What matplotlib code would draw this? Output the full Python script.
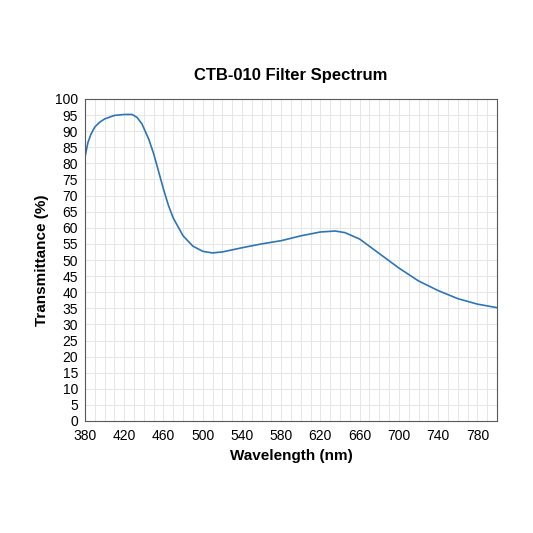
import matplotlib
matplotlib.use('Agg')
import matplotlib.pyplot as plt
import numpy as np

plt.rcParams['font.family'] = ['Liberation Sans', 'DejaVu Sans']

wavelength = [380, 383, 386, 390, 395, 400, 410, 420, 428, 433, 438, 445, 450, 455, 460, 465, 470, 480, 490,
              500, 510, 520, 540, 560, 580, 600, 620, 635, 645, 660, 680, 700, 720, 740, 760, 780, 800]
transmittance = [82, 86.5, 89, 91.3, 92.8, 93.8, 94.9, 95.2, 95.2, 94.3, 92.3, 87.5, 83, 77.5, 72, 67, 63, 57.5, 54.3,
                 52.7, 52.2, 52.5, 53.8, 55, 56, 57.5, 58.7, 59, 58.5, 56.5, 52, 47.5, 43.5, 40.5, 38, 36.3, 35.2]

fig = plt.figure(figsize=(5.33, 5.33), dpi=100)
ax = fig.add_axes([85/533, 1 - 421/533, 412/533, 322/533])

ax.plot(wavelength, transmittance, color='#2e75b6', linewidth=1.2)

ax.set_xlim(380, 800)
ax.set_ylim(0, 100)
ax.set_xticks(np.arange(380, 801, 40))
ax.set_xticks(np.arange(380, 801, 10), minor=True)
ax.set_yticks(np.arange(0, 101, 5))
ax.grid(which='both', color='#e6e6e6', linewidth=0.7)
ax.set_axisbelow(True)
ax.tick_params(which='both', length=0, labelsize=10)
ax.tick_params(axis='x', pad=6)
ax.tick_params(axis='y', pad=5)
for s in ax.spines.values():
    s.set_color('#595959')

ax.set_title('CTB-010 Filter Spectrum', fontsize=12, fontweight='bold', pad=14)
ax.set_xlabel('Wavelength (nm)', fontsize=11, fontweight='bold')
ax.set_ylabel('Transmittance (%)', fontsize=11, fontweight='bold')

fig.savefig('out.png', dpi=100)
